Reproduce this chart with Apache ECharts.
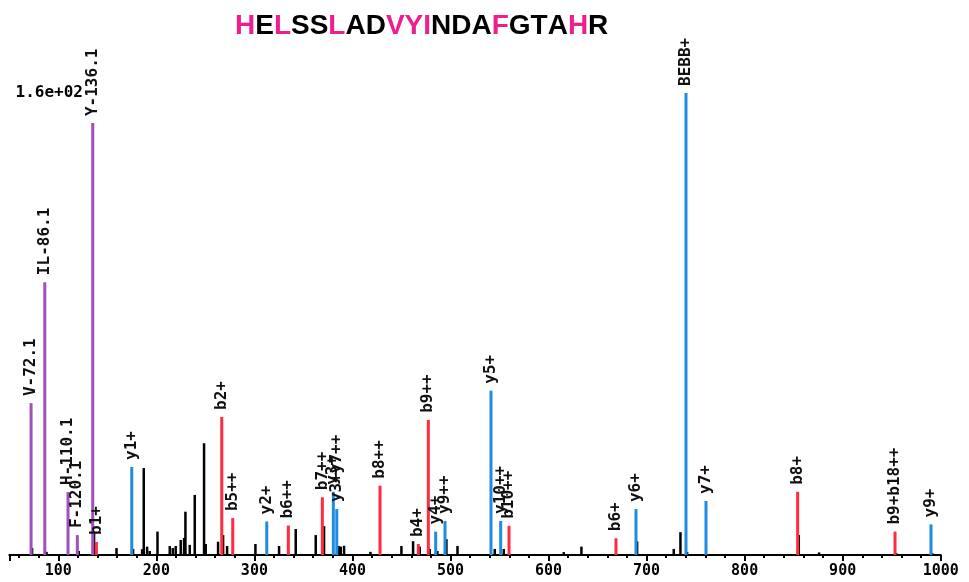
<!DOCTYPE html>
<html>
<head>
<meta charset="utf-8">
<script src="https://cdn.jsdelivr.net/npm/echarts@6/dist/echarts.min.js"></script>
<style>html,body{margin:0;padding:0;background:#fff;}#chart{width:969px;height:582px;}</style>
</head>
<body>
<div id="chart"></div>
<script>
// Peptide sequence (title) and highlighted residues
const sequence = ['H','E','L','S','S','L','A','D','V','Y','I','N','D','A','F','G','T','A','H','R'];
const highlighted = [1,0,1,0,0,1,0,0,1,1,1,0,0,0,1,0,0,0,1,0];

// Immonium ions (purple)
const immMz = [72.2, 86.2, 109.9, 119.4, 135.1];
const immInt = [52.6, 94.5, 21.8, 6.9, 149.6];
const immLabels = ['V-72.1', 'IL-86.1', 'H-110.1', 'F-120.1', 'Y-136.1'];

// b ions (red)
const bMz = [138.8, 266.7, 277.9, 334.6, 369.3, 428.1, 467.2, 477.4, 559.7, 668.8, 854.1, 953.4];
const bInt = [4.5, 47.8, 12.8, 10.2, 20.0, 24.0, 3.8, 46.8, 10.1, 5.8, 21.9, 8.1];
const bLabels = ['b1+', 'b2+', 'b5++', 'b6++', 'b7++', 'b8++', 'b4+', 'b9++', 'b10++', 'b6+', 'b8+', 'b9+b18++'];

// y ions (blue)
const yMz = [174.9, 312.6, 380.5, 384.0, 484.9, 494.4, 541.3, 551.2, 689.2, 740.2, 760.6, 990.1];
const yInt = [30.5, 11.6, 21.9, 15.9, 8.1, 11.8, 56.9, 11.8, 15.9, 160, 18.7, 10.6];
const yLabels = ['y1+', 'y2+', 'y3+', 'y3+y7++', 'y4+', 'y9++', 'y5+', 'y10++', 'y6+', 'BEBB+', 'y7+', 'y9+'];

// unassigned peaks (black)
const otherMz = [73.5, 88.2, 121.1, 136.7, 159.6, 176.5, 185.7, 187.4, 190.8, 193.5, 201.4, 213.9, 217.0, 220.0, 225.1, 228.5, 229.9, 234.3, 239.4, 248.9, 250.6, 263.2, 268.3, 272.4, 301.3, 325.4, 342.4, 362.8, 371.3, 386.3, 388.3, 391.7, 418.6, 450.2, 462.1, 468.9, 479.1, 486.9, 496.1, 507.4, 545.4, 554.6, 615.8, 633.8, 690.6, 728.0, 734.8, 741.6, 855.5, 876.2, 954.8, 991.5];
const otherInt = [2.4, 1.1, 1.4, 8.0, 2.4, 2.1, 2.0, 30.1, 2.9, 1.4, 8.1, 3.1, 2.4, 3.1, 5.2, 5.9, 15.0, 3.5, 20.8, 38.7, 3.8, 4.6, 6.9, 3.1, 3.8, 3.1, 9.0, 6.9, 10.0, 3.1, 2.9, 3.2, 1.1, 3.1, 4.8, 2.9, 2.1, 1.4, 5.5, 3.1, 2.1, 2.1, 1.0, 2.9, 4.7, 2.1, 7.9, 1.0, 6.9, 0.9, 0.7, 0.7];

// axis
const xMin = 50, xMax = 1000;
const yMax = 160;
const yMaxLabel = '1.6e+02';

const COLORS = { imm: '#a050bd', b: '#ff2b3e', y: '#1e8de0', other: '#000000', hl: '#ee1f8d' };
const MONO = '"DejaVu Sans Mono", monospace';

function toData(mz, it, labels) {
  return mz.map((m, i) => ({ value: [m, it[i]], name: labels ? labels[i] : '' }));
}

const labelCfg = {
  show: true, position: 'top', rotate: 90, align: 'left', verticalAlign: 'middle',
  distance: 7, formatter: '{b}', color: '#111', fontFamily: MONO, fontWeight: 'bold', fontSize: 16
};

function barSeries(name, mz, it, labels, color, width) {
  return {
    type: 'bar', name: name, data: toData(mz, it, labels), barWidth: width, barGap: '-100%',
    itemStyle: { color: color }, label: labels ? labelCfg : { show: false },
    silent: true, z: labels ? 3 : 2
  };
}

const rich = {
  p: { color: COLORS.hl, fontFamily: '"Liberation Sans", Arial, sans-serif', fontWeight: 'bold', fontSize: 28 },
  k: { color: '#000', fontFamily: '"Liberation Sans", Arial, sans-serif', fontWeight: 'bold', fontSize: 28 }
};
const titleText = sequence.map((c, i) => (highlighted[i] ? '{p|' + c + '}' : '{k|' + c + '}')).join('');

const chart = echarts.init(document.getElementById('chart'), null, { renderer: 'canvas' });
chart.setOption({
  animation: false,
  backgroundColor: '#ffffff',
  title: { text: titleText, left: 230, top: 7, textStyle: { rich: rich, fontSize: 28 } },
  grid: { left: 9.3, right: 28.3, top: 93, bottom: 27, containLabel: false },
  xAxis: {
    type: 'value', min: xMin, max: xMax, splitNumber: 10,
    axisLine: { show: true, lineStyle: { color: '#000', width: 2 } },
    axisTick: { show: true, length: 6, lineStyle: { color: '#000', width: 2 } },
    minorTick: { show: true, splitNumber: 5, length: 3, lineStyle: { color: '#000', width: 2 } },
    splitLine: { show: false },
    axisLabel: { color: '#000', fontFamily: MONO, fontWeight: 'bold', fontSize: 15, margin: 9,
      formatter: v => (v % 100 === 0 ? String(v) : '') }
  },
  yAxis: {
    type: 'value', min: 0, max: yMax, interval: yMax, offset: -75.7,
    axisLine: { show: false }, axisTick: { show: false }, splitLine: { show: false },
    axisLabel: { margin: 2, color: '#000', fontFamily: MONO, fontWeight: 'bold', fontSize: 16,
      formatter: v => (v === yMax ? yMaxLabel : '') }
  },
  series: [
    barSeries('other', otherMz, otherInt, null, COLORS.other, 2.5),
    barSeries('imm', immMz, immInt, immLabels, COLORS.imm, 3),
    barSeries('b', bMz, bInt, bLabels, COLORS.b, 3),
    barSeries('y', yMz, yInt, yLabels, COLORS.y, 3)
  ]
});
</script>
</body>
</html>
